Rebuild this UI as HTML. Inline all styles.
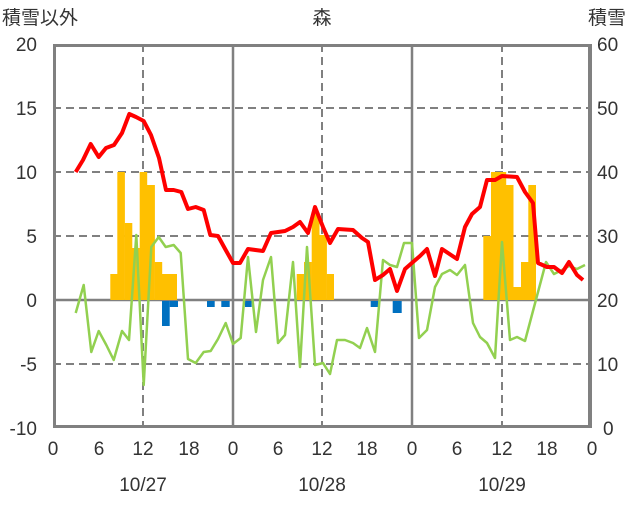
<!DOCTYPE html>
<html><head><meta charset="utf-8"><style>
body{margin:0;background:#fff;}
svg text{font-family:"Liberation Sans","Noto Sans CJK JP",sans-serif;fill:#333;}
</style></head><body>
<svg width="636" height="501" viewBox="0 0 636 501" xmlns="http://www.w3.org/2000/svg">
<rect width="636" height="501" fill="#fff"/>
<g stroke="#808080" stroke-width="2" stroke-dasharray="8,5">
<line x1="53" y1="108" x2="592" y2="108"/>
<line x1="53" y1="172" x2="592" y2="172"/>
<line x1="53" y1="236" x2="592" y2="236"/>
<line x1="53" y1="364" x2="592" y2="364"/>
<line x1="143" y1="44" x2="143" y2="428"/>
<line x1="322" y1="44" x2="322" y2="428"/>
<line x1="502" y1="44" x2="502" y2="428"/>
</g>
<g stroke="#808080" stroke-width="2.5">
<line x1="233" y1="44" x2="233" y2="428"/>
<line x1="412" y1="44" x2="412" y2="428"/>
<line x1="53" y1="300" x2="592" y2="300"/>
</g>
<g fill="#FFC000">
<rect x="110.3" y="274" width="7.3" height="26"/>
<rect x="117.3" y="172" width="7.6" height="128"/>
<rect x="124.7" y="223" width="7.6" height="77"/>
<rect x="132" y="248" width="7.9" height="52"/>
<rect x="139.7" y="172" width="7.5" height="128"/>
<rect x="147" y="185" width="7.9" height="115"/>
<rect x="154.7" y="262" width="7.5" height="38"/>
<rect x="162" y="274" width="15" height="26"/>
<rect x="296.7" y="274" width="7.5" height="26"/>
<rect x="304" y="262" width="7.9" height="38"/>
<rect x="311.7" y="213" width="7.8" height="87"/>
<rect x="319.3" y="235" width="7.6" height="65"/>
<rect x="326.7" y="274" width="7.3" height="26"/>
<rect x="483.3" y="236" width="7.9" height="64"/>
<rect x="491" y="172" width="15.2" height="128"/>
<rect x="506" y="185" width="7.5" height="115"/>
<rect x="513.3" y="287" width="7.9" height="13"/>
<rect x="521" y="262" width="7.5" height="38"/>
<rect x="528.3" y="185" width="7.7" height="115"/>
</g>
<g fill="#0070C0">
<rect x="162" y="301" width="7.7" height="25"/>
<rect x="169.7" y="301" width="8.3" height="6"/>
<rect x="207" y="301" width="7.7" height="6"/>
<rect x="221.3" y="301" width="8.4" height="6"/>
<rect x="245" y="301" width="6.7" height="6"/>
<rect x="370.7" y="301" width="7.6" height="6"/>
<rect x="392.7" y="301" width="9" height="12"/>
</g>
<polyline fill="none" stroke="#92D050" stroke-width="2.5" stroke-linejoin="round" points="75.7,313 83.7,285 91.3,352 98.7,331 106.3,345 113.7,360 122,331 129,340 136.3,235 143.7,385 151.3,247 158.7,237 165.7,247 173.7,245 180.7,253 188,359 195.7,363 203.7,352 210.7,351 218,339 225.7,323 233,344 240.7,338 248,257 256,332 263,280 271,257 278,343 285,335 293,262 300,367 307,247 315,365 323,363 330,374 337,340 345,340 353,343 360,348 367,328 375,352 383,260 390,265 397,267 404,243 412,243 419,338 427,330 435,287 442,274 450,270 457,275 465,265 473,323 480,337 487,343 495,358 502,242 510,340 517,337 525,341 546,262 554,274 562,270 569,266 577,269 585,265"/>
<polyline fill="none" stroke="#FF0000" stroke-width="4" stroke-linejoin="round" points="75.7,172 83,160 90.7,144 98.7,157 106,148 114,145 122,133 129.3,114 136,117 143.7,121 151,135 159,158 166,190 173.7,190 181.3,192 188,209 195.7,207 203.7,210 210.3,235 218,236 225.7,250 233,263 240,263 248,249 263,251 271,233 285,231 293,227 300,222 308,233 315,207 323,227 330,243 338,229 353,230 362,238 368,242 375,280 383,275 390,269 397,291 405,269 413,262 420,256 427,249 435,276 442,249 457,259 465,227 472,214 480,207 487,180 495,180 502,176 517,177 525,192 533,203 538,263 547,267 554,267 562,273 569,262 577,275 583,280"/>
<rect x="54.5" y="45.5" width="536" height="381" fill="none" stroke="#808080" stroke-width="3"/>
<line x1="590" y1="44" x2="590" y2="428" stroke="#808080" stroke-width="4"/>
<g font-size="19" text-anchor="end">
<text x="37" y="51">20</text><text x="37" y="115">15</text><text x="37" y="179">10</text>
<text x="37" y="243">5</text><text x="37" y="307">0</text><text x="37" y="371">-5</text><text x="37" y="435">-10</text>
</g>
<g font-size="19" text-anchor="start">
<text x="597" y="51">60</text><text x="597" y="115">50</text><text x="597" y="179">40</text>
<text x="597" y="243">30</text><text x="597" y="307">20</text><text x="597" y="371">10</text><text x="603" y="435">0</text>
</g>
<g font-size="19" text-anchor="middle">
<text x="53" y="455">0</text><text x="99" y="455">6</text><text x="143" y="455">12</text><text x="189" y="455">18</text>
<text x="233" y="455">0</text><text x="278" y="455">6</text><text x="322" y="455">12</text><text x="367" y="455">18</text>
<text x="412" y="455">0</text><text x="457" y="455">6</text><text x="502" y="455">12</text><text x="547" y="455">18</text>
<text x="592" y="455">0</text>
<text x="143" y="491">10/27</text><text x="322" y="491">10/28</text><text x="502" y="491">10/29</text>
<text x="322" y="24">森</text>
</g>
<text x="2" y="24" font-size="19">積雪以外</text>
<text x="588" y="24" font-size="19">積雪</text>
</svg>
</body></html>
